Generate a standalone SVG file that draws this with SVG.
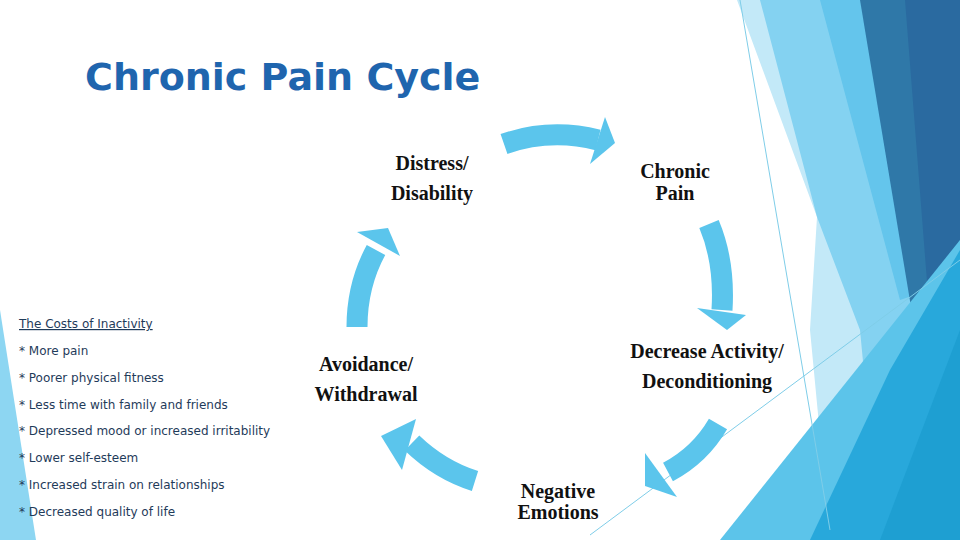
<svg xmlns="http://www.w3.org/2000/svg" width="960" height="540" viewBox="0 0 960 540">
<style>
.n{font-family:"Liberation Serif",serif;font-size:20px;fill:#111;font-weight:bold}
.l{font-family:"DejaVu Sans",sans-serif;font-size:12px;fill:#1f3b5a}
.arr{fill:none;stroke:#5bc5ec;stroke-width:21}
.hd{fill:#5bc5ec}
</style>
<rect width="960" height="540" fill="#fff"/>
<g id="background">
<polygon points="0,310 0,540 36,540" fill="#8dd6f2"/>
<polygon points="737,0 960,0 960,540 830,540 810,330 817,217" fill="#c3e9f8"/>
<polygon points="760,0 960,0 960,540 880,540 860,330 817,217" fill="#84d2f1"/>
<polygon points="820,0 960,0 960,280 900,300" fill="#64c5ec"/>
<polygon points="860,0 960,0 960,260 917,343" fill="#2f78a8"/>
<polygon points="905,0 960,0 960,240 930,320" fill="#2a6aa0"/>
<polygon points="960,240 960,540 720,540" fill="#5cc4ea"/>
<polygon points="960,250 960,540 810,540 890,370" fill="#28a8db"/>
<polygon points="960,330 960,540 880,540" fill="#1e9fd2"/>
<line x1="740" y1="0" x2="830" y2="530" stroke="#7fcde8" stroke-width="1"/>
<line x1="590" y1="535" x2="960" y2="260" stroke="#7fcde8" stroke-width="1"/>
</g>
<text x="85" y="90" font-family="'DejaVu Sans',sans-serif" font-size="38" fill="#1f65ae" font-weight="bold">Chronic Pain Cycle</text>
<g id="connectors">
<path class="arr" d="M504,144 Q550,128 598,140"/>
<polygon class="hd" points="605,117 615,143 590,164"/>
<path class="arr" d="M709,224 Q725,262 722,310"/>
<polygon class="hd" points="697,308 746,315 727,330"/>
<path class="arr" d="M718,424 Q700,455 668,472"/>
<polygon class="hd" points="645,453 645,486 677,497"/>
<path class="arr" d="M475,481 Q440,470 412,443"/>
<polygon class="hd" points="416,419 381,436 402,470"/>
<path class="arr" d="M357,327 Q357,285 376,250"/>
<polygon class="hd" points="357,232 388,228 400,256"/>
</g>
<g id="distress"><text class="n" x="432" y="170" text-anchor="middle">Distress/</text><text class="n" x="432" y="200" text-anchor="middle">Disability</text></g>
<g id="chronic"><text class="n" x="675" y="178" text-anchor="middle">Chronic</text><text class="n" x="675" y="200" text-anchor="middle">Pain</text></g>
<g id="decrease"><text class="n" x="707" y="358" text-anchor="middle">Decrease Activity/</text><text class="n" x="707" y="388" text-anchor="middle">Deconditioning</text></g>
<g id="negative"><text class="n" x="558" y="498" text-anchor="middle">Negative</text><text class="n" x="558" y="519" text-anchor="middle">Emotions</text></g>
<g id="avoidance"><text class="n" x="366" y="371" text-anchor="middle">Avoidance/</text><text class="n" x="366" y="401" text-anchor="middle">Withdrawal</text></g>
<g id="costs">
<text class="l" x="19" y="328" text-decoration="underline">The Costs of Inactivity</text>
<text class="l" x="19" y="355">* More pain</text>
<text class="l" x="19" y="382">* Poorer physical fitness</text>
<text class="l" x="19" y="409">* Less time with family and friends</text>
<text class="l" x="19" y="435">* Depressed mood or increased irritability</text>
<text class="l" x="19" y="462">* Lower self-esteem</text>
<text class="l" x="19" y="489">* Increased strain on relationships</text>
<text class="l" x="19" y="516">* Decreased quality of life</text>
</g>
</svg>
